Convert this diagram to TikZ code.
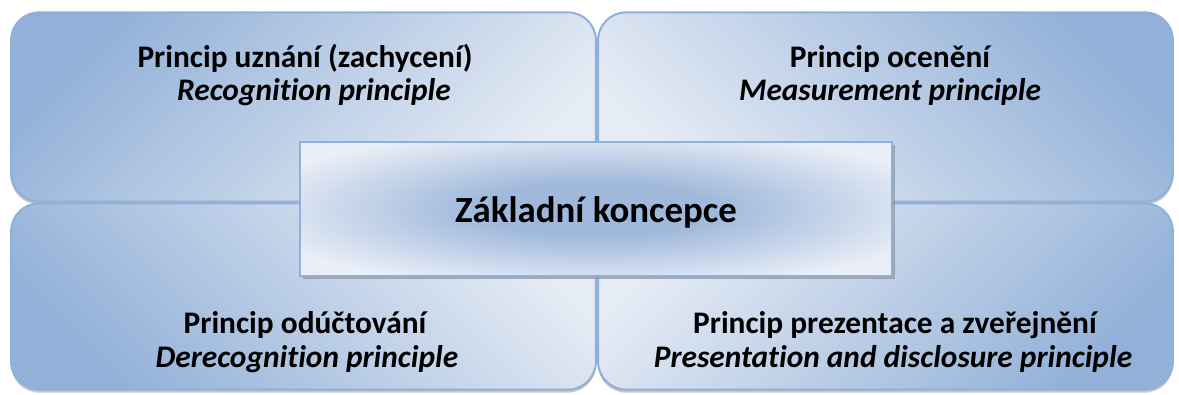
\documentclass[tikz,border=0pt]{standalone}
\usepackage{fontspec}
\setmainfont{Carlito}[Ligatures=NoCommon]
\definecolor{qdark}{HTML}{93B1D8}
\definecolor{qlight}{HTML}{E6ECF5}
\definecolor{qline}{HTML}{8FB0DA}
\definecolor{cdark}{HTML}{A0B9DB}
\definecolor{clight}{HTML}{E9EEF7}
\definecolor{shade}{HTML}{9A9A9A}
\pgfdeclareradialshading{coreglow}{\pgfpoint{0bp}{0bp}}{%
  color(0bp)=(cdark); color(10bp)=(cdark); color(30bp)=(clight); color(50bp)=(clight)}
\begin{document}
\begin{tikzpicture}[x=1bp,y=-1bp,
  quad/.style={draw=qline, line width=2bp, rounded corners=28bp,
    shading=axis, top color=qdark, bottom color=qlight,
    inner sep=0pt, outer sep=0pt,
    preaction={fill=shade, opacity=.55, transform canvas={yshift=-3bp}}},
  corebox/.style={draw=qline, line width=2bp, shading=coreglow,
    inner sep=0pt, outer sep=0pt,
    preaction={fill=shade, opacity=.8, transform canvas={xshift=3bp,yshift=-3bp}}},
  title/.style={anchor=base, inner sep=0pt, font=\fontsize{31.5}{36}\selectfont\bfseries},
  sub/.style={anchor=base, inner sep=0pt, font=\fontsize{31.5}{36}\selectfont\bfseries\itshape},
  coretitle/.style={anchor=base, inner sep=0pt, font=\fontsize{37}{42}\selectfont\bfseries}]
\useasboundingbox (0,0) rectangle (1179,394);

% four quadrants, each darkest at its outer corner
\node[quad, shading angle=45,  minimum width=587, minimum height=190] (tl) at (303.5,107) {};
\node[quad, shading angle=-45, minimum width=577, minimum height=190] (tr) at (885.5,107) {};
\node[quad, shading angle=135, minimum width=587, minimum height=187] (bl) at (303.5,296.5) {};
\node[quad, shading angle=-135,minimum width=577, minimum height=187] (br) at (885.5,296.5) {};

% quadrant labels
\node[title] (tlt) at (305,67) {Princip uznání (zachycení)};
\node[sub]   (tls) at (314,100) {Recognition principle};
\node[title] (trt) at (890,67) {Princip ocenění};
\node[sub]   (trs) at (890,100) {Measurement principle};
\begin{scope}
  \clip (0,0) rectangle (1179,372);
  \node[title] (blt) at (305,333) {Princip odúčtování};
  \node[sub]   (bls) at (307,367) {Derecognition principle};
  \node[title] (brt) at (895,333) {Princip prezentace a zveřejnění};
  \node[sub]   (brs) at (893,367) {Presentation and disclosure principle};
\end{scope}

% central concept
\node[corebox, minimum width=594, minimum height=134] (core) at (596,209) {};
\node[coretitle] (coret) at (596,222) {Základní koncepce};
\end{tikzpicture}
\end{document}
